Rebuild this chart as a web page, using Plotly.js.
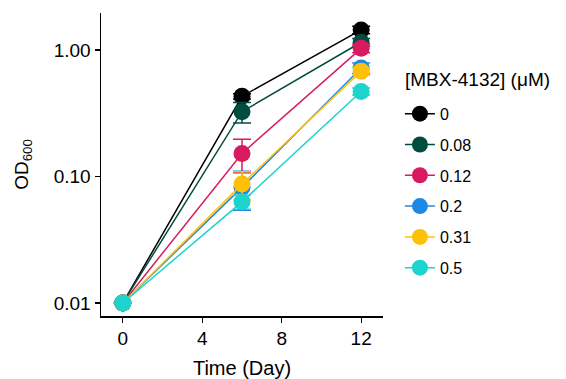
<!DOCTYPE html>
<html>
<head>
<meta charset="utf-8">
<script src="https://cdn.plot.ly/plotly-3.0.1.min.js"></script>
<style>html,body{margin:0;padding:0;background:#fff;}#chart{width:566px;height:379px;}</style>
</head>
<body>
<div id="chart"></div>
<script>
// Data
const days = [0, 6, 12];
const concentrations = ["0", "0.08", "0.12", "0.2", "0.31", "0.5"];
const colors = ["#000000", "#004D40", "#D81B60", "#1E88E5", "#FFC107", "#1DD3CE"];
const od_0    = [0.01, 0.43, 1.44];
const od_008  = [0.01, 0.325, 1.15];
const od_012  = [0.01, 0.152, 1.03];
const od_02   = [0.01, 0.082, 0.72];
const od_031  = [0.01, 0.087, 0.68];
const od_05   = [0.01, 0.063, 0.47];
const err_0   = [0, 0.02, 0.10];
const err_008 = [0, 0.06, 0.08];
const err_012 = [0, 0.045, 0.08];
const err_02  = [0, 0.028, 0.07];
const err_031 = [0, 0.022, 0.05];
const err_05  = [0, 0.008, 0.03];
const legendTitle = "[MBX-4132] (μM)";

const series = [od_0, od_008, od_012, od_02, od_031, od_05];
const errors = [err_0, err_008, err_012, err_02, err_031, err_05];

const traces = series.map((vals, i) => ({
  x: days,
  y: vals,
  type: "scatter",
  mode: "lines+markers",
  name: concentrations[i],
  line: {color: colors[i], width: 1.5},
  marker: {color: colors[i], size: 17},
  error_y: {type: "data", array: errors[i], visible: true, color: colors[i], thickness: 1.5, width: 9},
  legendgroup: "g" + i
}));

const font = "Liberation Sans, Arial, sans-serif";
const layout = {
  width: 566, height: 379,
  margin: {l: 101, r: 183, t: 13, b: 63},
  paper_bgcolor: "#fff", plot_bgcolor: "#fff",
  font: {family: font, color: "#000"},
  showlegend: true,
  xaxis: {
    range: [-1.1, 13.1],
    tickvals: [0, 4, 8, 12], ticktext: ["0", "4", "8", "12"],
    ticks: "outside", ticklen: 5, tickwidth: 1.2, tickcolor: "#000",
    showline: true, linecolor: "#000", linewidth: 1.5,
    showgrid: false, zeroline: false,
    tickfont: {size: 19, family: font, color: "#000"},
    title: {text: "Time (Day)", font: {size: 20, family: font, color: "#000"}, standoff: 13}
  },
  yaxis: {
    type: "log",
    range: [-2.103, 0.292],
    tickvals: [0.01, 0.1, 1], ticktext: ["0.01", "0.10", "1.00"],
    ticks: "outside", ticklen: 5, tickwidth: 1.2, tickcolor: "#000",
    showline: true, linecolor: "#000", linewidth: 1.5,
    showgrid: false, zeroline: false,
    tickfont: {size: 19, family: font, color: "#000"},
    title: {text: "OD<sub>600</sub>", font: {size: 19, family: font, color: "#000"}, standoff: 20}
  },
  legend: {
    x: 1.06, xanchor: "left", y: 0.7235, yanchor: "top",
    font: {size: 16, family: font, color: "#000"},
    traceorder: "grouped", tracegroupgap: 7,
    itemwidth: 30
  },
  annotations: [{
    text: legendTitle, xref: "paper", yref: "paper",
    x: 1.07, y: 0.779, xanchor: "left", yanchor: "middle",
    showarrow: false, font: {size: 19, family: font, color: "#000"}
  }]
};

Plotly.newPlot("chart", traces, layout, {displayModeBar: false, staticPlot: true});
</script>
</body>
</html>
